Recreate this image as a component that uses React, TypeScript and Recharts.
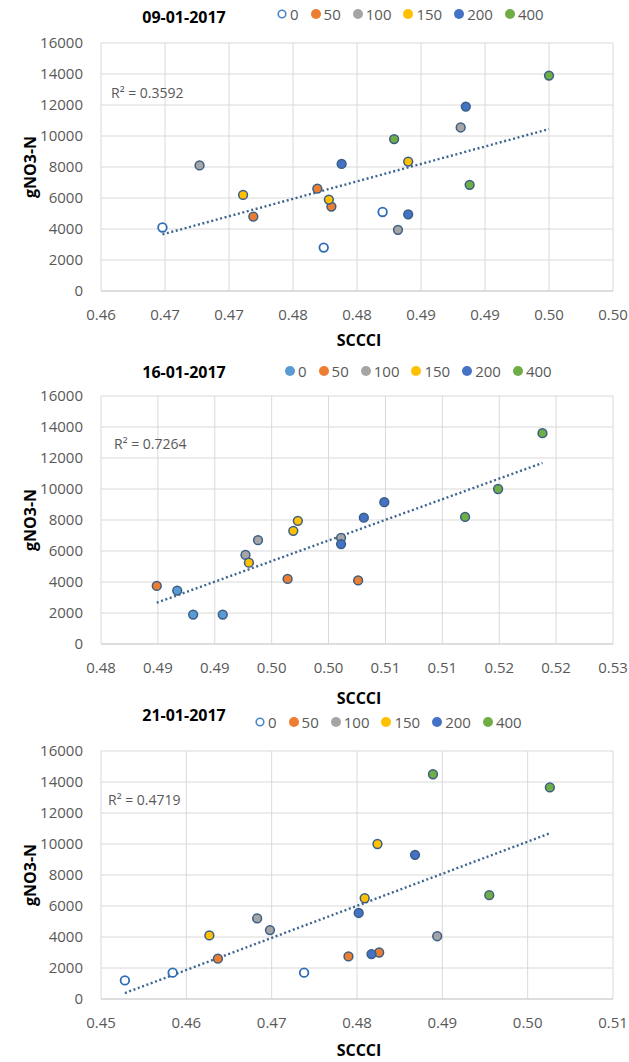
import { ScatterChart, Scatter, XAxis, YAxis, CartesianGrid, ReferenceLine } from "recharts"

const rates = ["0", "50", "100", "150", "200", "400"]
const rateColors = ["#5b9bd5", "#ed7d31", "#a5a5a5", "#ffc000", "#4472c4", "#70ad47"]

const yTicks = [0, 2000, 4000, 6000, 8000, 10000, 12000, 14000, 16000]

// 09-01-2017  (rows follow rates)
const sccci0901 = [
    [0.4648, 0.4774, 0.482],
    [0.4719, 0.4769, 0.478],
    [0.4677, 0.4832, 0.4881],
    [0.4711, 0.4778, 0.484],
    [0.4788, 0.484, 0.4885],
    [0.4829, 0.4888, 0.495],
]
const no3_0901 = [
    [4100, 2800, 5100],
    [4800, 6600, 5450],
    [8100, 3950, 10550],
    [6200, 5900, 8350],
    [8200, 4950, 11900],
    [9800, 6850, 13900],
]
const xTicks0901 = [0.46, 0.465, 0.47, 0.475, 0.48, 0.485, 0.49, 0.495, 0.5]

// 16-01-2017
const sccci1601 = [
    [0.4867, 0.4881, 0.4907],
    [0.4849, 0.4964, 0.5026],
    [0.4927, 0.4938, 0.5011],
    [0.493, 0.4969, 0.4973],
    [0.5011, 0.5031, 0.5049],
    [0.512, 0.5149, 0.5188],
]
const no3_1601 = [
    [3450, 1900, 1900],
    [3750, 4200, 4100],
    [5750, 6700, 6850],
    [5250, 7300, 7950],
    [6450, 8150, 9150],
    [8200, 10000, 13600],
]
const xTicks1601 = [0.48, 0.485, 0.49, 0.495, 0.5, 0.505, 0.51, 0.515, 0.52, 0.525]

// 21-01-2017
const sccci2101 = [
    [0.4528, 0.4584, 0.4738],
    [0.4637, 0.479, 0.4826],
    [0.4683, 0.4698, 0.4894],
    [0.4627, 0.4809, 0.4824],
    [0.4802, 0.4817, 0.4868],
    [0.4889, 0.4955, 0.5026],
]
const no3_2101 = [
    [1200, 1700, 1700],
    [2600, 2750, 3000],
    [5200, 4450, 4050],
    [4100, 6500, 10000],
    [5550, 2900, 9300],
    [14500, 6700, 13650],
]
const xTicks2101 = [0.45, 0.46, 0.47, 0.48, 0.49, 0.5, 0.51]

const panels = [
    { date: "09-01-2017", r2: "0.3592", xs: sccci0901, ys: no3_0901, ticks: xTicks0901, openZero: true,
      top: 0, height: 355, plotTop: 43, titleY: 17, legendX: 277, legendY: 14, r2X: 111, r2Y: 93, xLabelY: 340 },
    { date: "16-01-2017", r2: "0.7264", xs: sccci1601, ys: no3_1601, ticks: xTicks1601, openZero: false,
      top: 355, height: 353, plotTop: 41, titleY: 372, legendX: 285, legendY: 371, r2X: 114, r2Y: 444, xLabelY: 698 },
    { date: "21-01-2017", r2: "0.4719", xs: sccci2101, ys: no3_2101, ticks: xTicks2101, openZero: true,
      top: 708, height: 354, plotTop: 43, titleY: 715, legendX: 255, legendY: 722, r2X: 108, r2Y: 800, xLabelY: 1050 },
]

const PLOT_H = 248
const font = "'Open Sans', 'Noto Sans', sans-serif"
const tickStyle = { fill: "#595959", fontSize: 15, fontFamily: font }

// excel style labels: 0.475 -> 0.48
const fmt = (v: number) => (Math.round(v * 100 + 1e-6) / 100).toFixed(2)

function trendSegment(pts: { x: number; y: number }[]) {
    const n = pts.length
    const mx = pts.reduce((s, p) => s + p.x, 0) / n
    const my = pts.reduce((s, p) => s + p.y, 0) / n
    let sxy = 0
    let sxx = 0
    pts.forEach((p) => {
        sxy += (p.x - mx) * (p.y - my)
        sxx += (p.x - mx) * (p.x - mx)
    })
    const b = sxy / sxx
    const a = my - b * mx
    const x1 = Math.min(...pts.map((p) => p.x))
    const x2 = Math.max(...pts.map((p) => p.x))
    return [{ x: x1, y: a + b * x1 }, { x: x2, y: a + b * x2 }]
}

function Marker({ cx, cy, fill, open }: { cx?: number; cy?: number; fill: string; open: boolean }) {
    if (cx == null || cy == null) return null
    return open ? (
        <circle cx={cx} cy={cy} r={4.3} fill="#ffffff" stroke="#2e6db4" strokeWidth={1.8} />
    ) : (
        <circle cx={cx} cy={cy} r={4.4} fill={fill} stroke="#3b5e84" strokeWidth={1.5} />
    )
}

function Legend({ x, y, openZero }: { x: number; y: number; openZero: boolean }) {
    return (
        <div style={{ position: "absolute", left: x, top: y - 10, height: 20, display: "flex", alignItems: "center",
            fontFamily: font, fontSize: 15, lineHeight: "20px", color: "#595959" }}>
            {rates.map((r, i) => (
                <div key={r} style={{ display: "flex", alignItems: "center", marginRight: 12 }}>
                    <svg width={10} height={10} style={{ marginRight: 3 }}>
                        {i === 0 && openZero ? (
                            <circle cx={5} cy={5} r={3.8} fill="#fff" stroke="#4a86c5" strokeWidth={1.6} />
                        ) : (
                            <circle cx={5} cy={5} r={5} fill={rateColors[i]} />
                        )}
                    </svg>
                    <span>{r}</span>
                </div>
            ))}
        </div>
    )
}

function Panel({ p }: { p: (typeof panels)[number] }) {
    const series = rates.map((_, i) => p.xs[i].map((x, j) => ({ x, y: p.ys[i][j] })))
    const seg = trendSegment(series.flat())
    const bottom = p.height - p.plotTop - PLOT_H - 40
    const plotMid = p.top + p.plotTop + PLOT_H / 2
    return (
        <>
            <div style={{ position: "absolute", left: 0, top: p.top }}>
                <ScatterChart width={629} height={p.height} margin={{ top: p.plotTop, right: 16, bottom, left: 0 }}>
                    <CartesianGrid stroke="#d9d9d9" />
                    <XAxis type="number" dataKey="x" domain={[p.ticks[0], p.ticks[p.ticks.length - 1]]} ticks={p.ticks}
                        interval={0} tickFormatter={fmt} height={40} tickSize={0} tickMargin={18} tickLine={false}
                        axisLine={{ stroke: "#cfcfcf" }} tick={tickStyle} />
                    <YAxis type="number" dataKey="y" domain={[0, 16000]} ticks={yTicks} interval={0} width={101}
                        tickSize={0} tickMargin={18} tickLine={false} axisLine={false} tick={tickStyle} />
                    {series.map((d, i) => (
                        <Scatter key={rates[i]} name={rates[i]} data={d} isAnimationActive={false}
                            shape={(props: any) => <Marker cx={props.cx} cy={props.cy} fill={rateColors[i]} open={i === 0 && p.openZero} />} />
                    ))}
                    <ReferenceLine segment={seg} stroke="#3d6591" strokeWidth={2.4} strokeDasharray="2 2.6" ifOverflow="visible" />
                </ScatterChart>
            </div>
            <div style={{ position: "absolute", left: 84, top: p.titleY - 11.5, width: 200, textAlign: "center",
                fontFamily: font, fontWeight: 700, fontSize: 16, lineHeight: "22px", color: "#000" }}>
                {p.date}
            </div>
            <Legend x={p.legendX} y={p.legendY} openZero={p.openZero} />
            <div style={{ position: "absolute", left: p.r2X, top: p.r2Y - 10.4, fontFamily: font, fontSize: 14,
                lineHeight: "20px", color: "#595959", whiteSpace: "nowrap" }}>
                R² = {p.r2}
            </div>
            <div style={{ position: "absolute", left: -20, top: plotMid - 11, width: 100, height: 22, textAlign: "center",
                transform: "rotate(-90deg)", fontFamily: font, fontWeight: 700, fontSize: 16, lineHeight: "22px", color: "#000" }}>
                gNO3-N
            </div>
            <div style={{ position: "absolute", left: 259, top: p.xLabelY - 11.5, width: 200, textAlign: "center",
                fontFamily: font, fontWeight: 700, fontSize: 16, lineHeight: "22px", color: "#000" }}>
                SCCCI
            </div>
        </>
    )
}

export default function App() {
    return (
        <div style={{ position: "absolute", left: 0, top: 0, width: 629, height: 1062, background: "#fff", overflow: "hidden" }}>
            {panels.map((p) => (
                <Panel key={p.date} p={p} />
            ))}
        </div>
    )
}
